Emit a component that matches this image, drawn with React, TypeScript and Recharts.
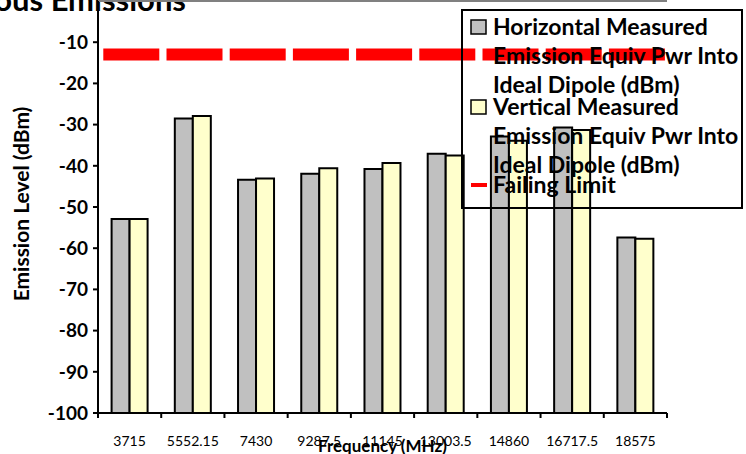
import React from 'react';
import { ComposedChart, Bar, XAxis, YAxis, ReferenceLine, Label } from 'recharts';

const categories = ['3715', '5552.15', '7430', '9287.5', '11145', '13003.5', '14860', '16717.5', '18575'];
const horizontalDbm = [-52.9, -28.5, -43.4, -41.9, -40.8, -37.1, -32.9, -30.7, -57.4];
const verticalDbm = [-52.9, -27.9, -43.1, -40.6, -39.3, -37.5, -33.9, -31.3, -57.7];
const failingLimit = -13;
const yMin = -100;
const yMax = 0;
const yTicks = [-100, -90, -80, -70, -60, -50, -40, -30, -20, -10];
const seriesNames = [
  ['Horizontal Measured', 'Emission Equiv Pwr Into', 'Ideal Dipole (dBm)'],
  ['Vertical Measured', 'Emission Equiv Pwr Into', 'Ideal Dipole (dBm)'],
  ['Failing Limit'],
];
const titleText = 'Spurious Emissions';
const xTitle = 'Frequency (MHz)';
const yTitle = 'Emission Level (dBm)';

// bars rise from the axis minimum, as in the original spreadsheet chart
const data = categories.map((freq, i) => ({
  freq,
  h: [yMin, horizontalDbm[i]],
  v: [yMin, verticalDbm[i]],
}));

const FONT = 'Lato, "Open Sans", sans-serif';

// category label plus tick marks placed between categories (spreadsheet style)
const CatTick = (props: any) => {
  const { x, y, payload, width, visibleTicksCount, index } = props;
  const band = width / (visibleTicksCount || categories.length);
  const left = x - band / 2;
  const right = x + band / 2;
  const isLast = index === (visibleTicksCount || categories.length) - 1;
  return (
    <g>
      <line x1={left} x2={left} y1={y} y2={y + 5} stroke="#000" strokeWidth={2} />
      {isLast && <line x1={right} x2={right} y1={y} y2={y + 5} stroke="#000" strokeWidth={2} />}
      <text x={x} y={y + 33} textAnchor="middle" fontFamily={FONT} fontSize={14} fill="#000">
        {payload.value}
      </text>
    </g>
  );
};

const LegendBox = () => (
  <svg width={284} height={202} style={{ position: 'absolute', left: 460, top: 8 }}>
    <rect x={2} y={2} width={280} height={198} fill="none" stroke="#000" strokeWidth={2} />
    <rect x={11} y={12} width={15} height={14} fill="#C0C0C0" stroke="#000" strokeWidth={1.5} />
    <rect x={11} y={92} width={15} height={14} fill="#FFFFCC" stroke="#000" strokeWidth={1.5} />
    <line x1={11} x2={27} y1={177} y2={177} stroke="#FF0000" strokeWidth={4} />
    <g fontFamily={FONT} fontWeight={700} fontSize={23} fill="#000">
      {seriesNames[0].map((t, i) => (
        <text key={'h' + i} x={33} y={27 + i * 29}>{t}</text>
      ))}
      {seriesNames[1].map((t, i) => (
        <text key={'v' + i} x={33} y={107 + i * 29}>{t}</text>
      ))}
      {seriesNames[2].map((t, i) => (
        <text key={'f' + i} x={33} y={185 + i * 29}>{t}</text>
      ))}
    </g>
  </svg>
);

export default function App() {
  return (
    <div style={{ position: 'absolute', left: 0, top: 0, width: 746, height: 454, overflow: 'hidden', background: '#fff' }}>
      <ComposedChart
        width={746}
        height={454}
        data={data}
        margin={{ top: 1, right: 79, bottom: 0, left: 0 }}
        barCategoryGap="21.5%"
        barGap={0}
      >
        <XAxis
          xAxisId="cat"
          dataKey="freq"
          interval={0}
          height={41}
          tickLine={false}
          tickSize={0}
          tickMargin={0}
          axisLine={{ stroke: '#000', strokeWidth: 2 }}
          tick={<CatTick />}
        >
          <Label
            content={(p: any) => {
              const vb = p.viewBox;
              return (
                <text x={vb.x + vb.width / 2} y={452} textAnchor="middle" fontFamily={FONT} fontWeight={700} fontSize={17} fill="#000">
                  {xTitle}
                </text>
              );
            }}
          />
        </XAxis>
        <YAxis
          yAxisId="left"
          type="number"
          domain={[yMin, yMax]}
          ticks={yTicks}
          width={98}
          interval={0}
          tickSize={5}
          tickMargin={5}
          axisLine={{ stroke: '#000', strokeWidth: 2 }}
          tickLine={{ stroke: '#000', strokeWidth: 2 }}
          tick={{ fill: '#000', fontSize: 19, fontWeight: 700, fontFamily: FONT }}
        >
          <Label
            content={(p: any) => {
              const vb = p.viewBox;
              const cy = vb.y + vb.height / 2 - 3;
              return (
                <text x={29} y={cy} transform={`rotate(-90, 29, ${cy})`} textAnchor="middle" fontFamily={FONT} fontWeight={700} fontSize={21} fill="#000">
                  {yTitle}
                </text>
              );
            }}
          />
        </YAxis>
        <YAxis
          yAxisId="right"
          orientation="right"
          type="number"
          domain={[yMin, yMax]}
          width={0}
          tick={false}
          tickLine={false}
          axisLine={{ stroke: '#808080', strokeWidth: 2 }}
        />
        <ReferenceLine yAxisId="left" xAxisId="cat" y={yMax} stroke="#808080" strokeWidth={2} />
        <Bar xAxisId="cat" yAxisId="left" dataKey="h" fill="#C0C0C0" stroke="#000" strokeWidth={2} isAnimationActive={false} />
        <Bar xAxisId="cat" yAxisId="left" dataKey="v" fill="#FFFFCC" stroke="#000" strokeWidth={2} isAnimationActive={false} />
        <ReferenceLine
          yAxisId="left"
          xAxisId="cat"
          y={failingLimit}
          stroke="#FF0000"
          strokeWidth={12}
          strokeDasharray="56 7.2"
          strokeDashoffset={57.9}
        />
        <text x={186} y={11} textAnchor="end" fontFamily={FONT} fontWeight={700} fontSize={31} fill="#000">
          {titleText}
        </text>
      </ComposedChart>
      <LegendBox />
    </div>
  );
}
